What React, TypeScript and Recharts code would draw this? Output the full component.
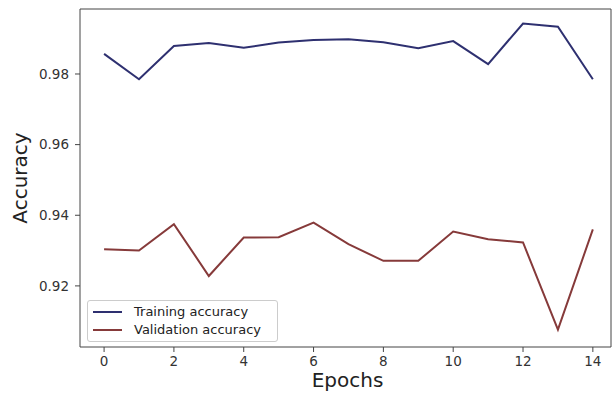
import { LineChart, Line, XAxis, YAxis, Label, ReferenceLine } from 'recharts';

// epochs 0..14
const epochs = [0, 1, 2, 3, 4, 5, 6, 7, 8, 9, 10, 11, 12, 13, 14];
const trainAcc = [0.9857, 0.9785, 0.9879, 0.9888, 0.9874, 0.9889, 0.9896, 0.9898, 0.989, 0.9873, 0.9893, 0.9828, 0.9943, 0.9934, 0.9785];
const valAcc = [0.9304, 0.93, 0.9375, 0.9228, 0.9337, 0.9338, 0.9379, 0.9318, 0.9271, 0.9271, 0.9354, 0.9332, 0.9323, 0.9076, 0.936];
const xTicks = [0, 2, 4, 6, 8, 10, 12, 14];
const yTicks = [0.92, 0.94, 0.96, 0.98];

const X_DOMAIN: [number, number] = [-0.69, 14.52];
const Y_DOMAIN: [number, number] = [0.9027, 0.9984];

const TRAIN_COLOR = '#2e3070';
const VAL_COLOR = '#863a3a';
const AXIS_COLOR = '#444';
const FONT = '"DejaVu Sans", sans-serif';

const data = epochs.map((e, i) => ({ epoch: e, train: trainAcc[i], val: valAcc[i] }));

const legendItems = [
  { label: 'Training accuracy', color: TRAIN_COLOR },
  { label: 'Validation accuracy', color: VAL_COLOR },
];

function LegendBox() {
  return (
    <div
      style={{
        position: 'absolute',
        left: 87,
        top: 300,
        background: 'rgba(255,255,255,0.9)',
        border: '1px solid #ccc',
        borderRadius: 3,
        padding: '2px 6px 2px 5px',
        fontFamily: FONT,
        fontSize: 13,
        color: '#222',
        lineHeight: '18px',
        width: 178,
      }}
    >
      {legendItems.map(it => (
        <div key={it.label} style={{ display: 'flex', alignItems: 'center' }}>
          <span style={{ display: 'inline-block', width: 29, height: 2, background: it.color, marginRight: 12 }} />
          {it.label}
        </div>
      ))}
    </div>
  );
}

export default function App() {
  return (
    <div style={{ position: 'absolute', left: 0, top: 0, width: 614, height: 394, background: '#fff' }}>
      <LineChart width={614} height={394} data={data} margin={{ top: 9, right: 3, left: 0, bottom: 0 }}>
        <XAxis
          dataKey="epoch"
          type="number"
          domain={X_DOMAIN}
          ticks={xTicks}
          allowDataOverflow
          height={47}
          stroke={AXIS_COLOR}
          tickSize={5}
          tickMargin={4}
          tick={{ fill: '#333', fontSize: 13.5, fontFamily: FONT }}
        >
          <Label
            content={({ viewBox }: any) => (
              <text
                x={viewBox.x + viewBox.width / 2 + 2}
                y={viewBox.y + 40}
                textAnchor="middle"
                fontSize={20}
                fontFamily={FONT}
                fill="#222"
              >
                Epochs
              </text>
            )}
          />
        </XAxis>
        <YAxis
          domain={Y_DOMAIN}
          ticks={yTicks}
          allowDataOverflow
          width={80}
          stroke={AXIS_COLOR}
          tickSize={5}
          tickMargin={6}
          tick={{ fill: '#333', fontSize: 13.5, fontFamily: FONT }}
        >
          <Label
            content={({ viewBox }: any) => {
              const cx = viewBox.x + 20;
              const cy = viewBox.y + viewBox.height / 2;
              return (
                <text
                  x={cx}
                  y={cy}
                  textAnchor="middle"
                  dominantBaseline="central"
                  transform={`rotate(-90 ${cx} ${cy})`}
                  fontSize={20}
                  fontFamily={FONT}
                  fill="#222"
                >
                  Accuracy
                </text>
              );
            }}
          />
        </YAxis>
        {/* top and right frame edges */}
        <ReferenceLine y={Y_DOMAIN[1]} stroke={AXIS_COLOR} strokeWidth={1} />
        <ReferenceLine x={X_DOMAIN[1]} stroke={AXIS_COLOR} strokeWidth={1} />
        <Line type="linear" dataKey="train" name="Training accuracy" stroke={TRAIN_COLOR} strokeWidth={2} dot={false} isAnimationActive={false} />
        <Line type="linear" dataKey="val" name="Validation accuracy" stroke={VAL_COLOR} strokeWidth={2} dot={false} isAnimationActive={false} />
      </LineChart>
      <LegendBox />
    </div>
  );
}
